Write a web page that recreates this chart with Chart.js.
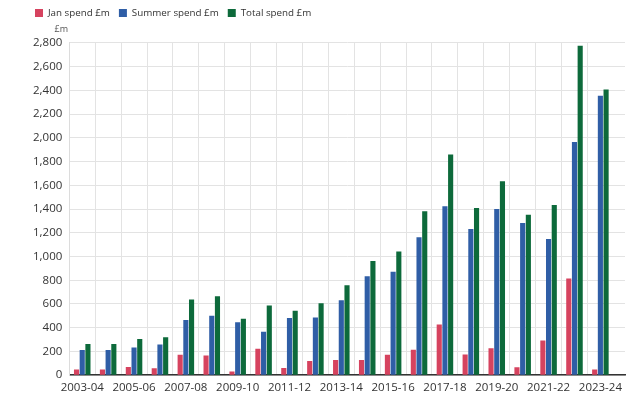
<!DOCTYPE html>
<html>
<head>
<meta charset="utf-8">
<script src="https://cdn.jsdelivr.net/npm/chart.js@4.4.0/dist/chart.umd.min.js"></script>
<style>
  html, body { margin: 0; padding: 0; background: #ffffff; }
  #wrap { width: 640px; height: 407px; position: relative; }
</style>
</head>
<body>
<div id="wrap"><canvas id="c"></canvas></div>
<script>
const categories = ["2003-04","2004-05","2005-06","2006-07","2007-08","2008-09","2009-10","2010-11","2011-12","2012-13","2013-14","2014-15","2015-16","2016-17","2017-18","2018-19","2019-20","2020-21","2021-22","2022-23","2023-24"];
const janSpend    = [47, 47, 70, 59, 172, 166, 32, 222, 60, 120, 127, 127, 172, 214, 428, 175, 226, 68, 293, 814, 48];
const summerSpend = [212, 212, 233, 258, 466, 500, 445, 366, 482, 486, 631, 834, 871, 1161, 1423, 1232, 1400, 1282, 1147, 1964, 2353];
const totalSpend  = [262, 262, 304, 320, 638, 666, 475, 588, 542, 606, 758, 961, 1042, 1380, 1860, 1409, 1634, 1352, 1434, 2775, 2407];
const yTicks = { min: 0, max: 2800, step: 200 };
const seriesNames = ["Jan spend £m", "Summer spend £m", "Total spend £m"];
const unitLabel = "£m";

const FONT = "'Open Sans', 'Noto Sans', sans-serif";
const toPoints = arr => arr.map((v, i) => ({ x: i, y: v }));

const legendGap = {
  id: 'legendGap',
  beforeInit(chart) {
    const origFit = chart.legend.fit;
    chart.legend.fit = function () {
      origFit.bind(chart.legend)();
      this.height += 15;
    };
  }
};

const unitPlugin = {
  id: 'unitLabel',
  afterDraw(chart) {
    const { ctx, chartArea } = chart;
    ctx.save();
    ctx.font = "9px " + FONT;
    ctx.fillStyle = '#555';
    ctx.textAlign = 'center';
    ctx.textBaseline = 'middle';
    ctx.fillText(unitLabel, chartArea.left - 8, chartArea.top - 13);
    ctx.restore();
  }
};

new Chart(document.getElementById('c'), {
  type: 'bar',
  data: {
    datasets: [
      { label: seriesNames[0], data: toPoints(janSpend), backgroundColor: '#d6435f' },
      { label: seriesNames[1], data: toPoints(summerSpend), backgroundColor: '#2f5ea6' },
      { label: seriesNames[2], data: toPoints(totalSpend), backgroundColor: '#0d6a3b' }
    ]
  },
  options: {
    responsive: true,
    maintainAspectRatio: false,
    animation: false,
    locale: 'en-GB',
    datasets: { bar: { categoryPercentage: 0.66, barPercentage: 0.9 } },
    layout: { padding: { left: 26, right: 15, top: -1, bottom: 6 } },
    plugins: {
      legend: {
        position: 'top',
        align: 'start',
        labels: {
          boxWidth: 8, boxHeight: 8, padding: 9,
          color: '#333', font: { family: FONT, size: 9.8 }
        }
      },
      tooltip: { enabled: false }
    },
    scales: {
      x: {
        type: 'linear',
        min: -0.5,
        max: 20.95,
        offset: false,
        grid: {
          drawTicks: false,
          color: ctx => (ctx.tick && Number.isInteger(ctx.tick.value) && ctx.tick.value >= 0 && ctx.tick.value < categories.length) ? '#e3e3e3' : 'rgba(0,0,0,0)'
        },
        border: { color: '#333', width: 1.5 },
        ticks: {
          stepSize: 1,
          includeBounds: false,
          autoSkip: false,
          maxRotation: 0,
          padding: 6,
          color: '#333',
          font: { family: FONT, size: 11.5 },
          callback: v => (Number.isInteger(v) && v % 2 === 0 && v < categories.length) ? categories[v] : ''
        }
      },
      y: {
        min: yTicks.min,
        max: yTicks.max,
        grid: { drawTicks: false, color: '#e3e3e3' },
        border: { color: '#dcdcdc' },
        ticks: {
          stepSize: yTicks.step,
          padding: 7,
          color: '#333',
          font: { family: FONT, size: 11.5 }
        }
      }
    }
  },
  plugins: [legendGap, unitPlugin]
});
</script>
</body>
</html>
